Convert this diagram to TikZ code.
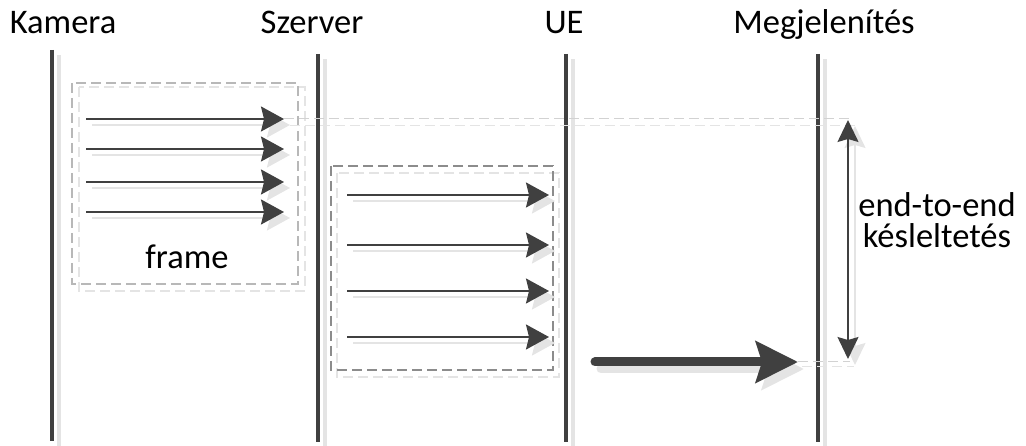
\documentclass[tikz,border=0pt]{standalone}
\usepackage{fontspec}
\setmainfont{Carlito}
\usetikzlibrary{arrows.meta}
\definecolor{dk}{HTML}{404040}
\definecolor{shd}{HTML}{E4E4E4}
\definecolor{boxa}{HTML}{B8B8B8}
\definecolor{boxb}{HTML}{8C8C8C}
\definecolor{conn}{HTML}{D2D2D2}
\tikzset{
  lbl/.style={anchor=base, inner sep=0pt, font=\fontsize{34.5}{40}\selectfont},
  life/.style={line width=3.6pt, color=dk},
  lifeshd/.style={line width=3.6pt, color=shd},
  msg/.style={line width=1.8pt, color=dk, -{Stealth[length=23pt,width=25pt,inset=3pt]}},
  msgshd/.style={line width=1.8pt, color=shd, -{Stealth[length=23pt,width=25pt,inset=3pt]}},
  big/.style={line width=9pt, color=dk, line cap=round, -{Stealth[length=42pt,width=41pt,inset=6pt]}},
  bigshd/.style={line width=9pt, color=shd, line cap=round, -{Stealth[length=42pt,width=41pt,inset=6pt]}},
  dbl/.style={line width=1.5pt, color=dk, {Stealth[length=22pt,width=21pt,inset=3pt]}-{Stealth[length=22pt,width=21pt,inset=3pt]}},
  dblshd/.style={line width=1.5pt, color=shd, {Stealth[length=22pt,width=21pt,inset=3pt]}-{Stealth[length=22pt,width=21pt,inset=3pt]}},
  dbox/.style={line width=1.3pt, dash pattern=on 10pt off 5pt},
  cline/.style={line width=1pt, color=conn, dash pattern=on 10pt off 5pt},
  clineshd/.style={line width=1pt, color=shd, dash pattern=on 10pt off 5pt},
}
\begin{document}
\begin{tikzpicture}[x=1pt,y=-1pt]
\useasboundingbox (0,0) rectangle (1026,446);
% labels
\node[lbl] (kam) at (63,34) {Kamera};
\node[lbl] (sze) at (312,34) {Szerver};
\node[lbl] (ue) at (564,34) {UE};
\node[lbl] (meg) at (824,34) {Megjelenítés};
% lifeline ends
\coordinate (kt) at (52,50);  \coordinate (kb) at (52,441);
\coordinate (st) at (318,54); \coordinate (sb) at (318,442);
\coordinate (ut) at (566,54); \coordinate (ub) at (566,442);
\coordinate (mt) at (818,54); \coordinate (mb) at (818,442);
% lifeline shadows
\foreach \a/\b in {kt/kb,st/sb,ut/ub,mt/mb}{
  \draw[lifeshd] ([shift={(7,5)}]\a) -- ([shift={(7,15)}]\b);
}
% boxes (shadow first)
\coordinate (b1a) at (72,83);  \coordinate (b1b) at (298,284);
\coordinate (b2a) at (331,166); \coordinate (b2b) at (553,370);
\draw[dbox, color=shd] ([shift={(7,4)}]b1a) rectangle ([shift={(7,7)}]b1b);
\draw[dbox, color=boxa] (b1a) rectangle (b1b);
\draw[dbox, color=shd] ([shift={(6,7)}]b2a) rectangle ([shift={(6,7)}]b2b);
\draw[dbox, color=boxb] (b2a) rectangle (b2b);
% lifelines
\draw[life] (kt) -- (kb);
\draw[life] (st) -- (sb);
\draw[life] (ut) -- (ub);
\draw[life] (mt) -- (mb);
% connector guide lines
\coordinate (e2etop) at (848,120);
\coordinate (e2ebot) at (848,359);
\coordinate (ctop) at (284,119);
\coordinate (ctopend) at (849,119);
\coordinate (bigs) at (595,362);
\coordinate (bige) at (798,362);
\coordinate (cbotend) at (850,362);
\draw[clineshd] ([shift={(6,7)}]ctop) -- ([shift={(6,7)}]ctopend);
\draw[cline] (ctop) -- (ctopend);
\draw[clineshd] ([shift={(4,5)}]bige) -- ([shift={(4,5)}]cbotend);
\draw[cline] (bige) -- (cbotend);
% frame arrows
\foreach \n/\y in {1/119,2/149,3/182,4/212}{
  \coordinate (fa\n) at (86,\y); \coordinate (fb\n) at (284,\y);
  \draw[msgshd] ([shift={(6,6)}]fa\n) -- ([shift={(6,6)}]fb\n);
  \draw[msg] (fa\n) -- (fb\n);
}
\foreach \n/\y in {1/195,2/245,3/291,4/337}{
  \coordinate (ga\n) at (347,\y); \coordinate (gb\n) at (549,\y);
  \draw[msgshd] ([shift={(6,6)}]ga\n) -- ([shift={(6,6)}]gb\n);
  \draw[msg] (ga\n) -- (gb\n);
}
% big arrow
\draw[bigshd] ([shift={(6,7)}]bigs) -- ([shift={(6,7)}]bige);
\draw[big] (bigs) -- (bige);
% end-to-end arrow
\draw[dblshd] ([shift={(7,6)}]e2etop) -- ([shift={(7,6)}]e2ebot);
\draw[dbl] (e2etop) -- (e2ebot);
% texts
\node[lbl] (fr) at (187,269) {frame};
\node[lbl, align=center, font=\fontsize{34.5}{31}\selectfont] (e2e) at (937,248) {end-to-end\\késleltetés};
\end{tikzpicture}
\end{document}
